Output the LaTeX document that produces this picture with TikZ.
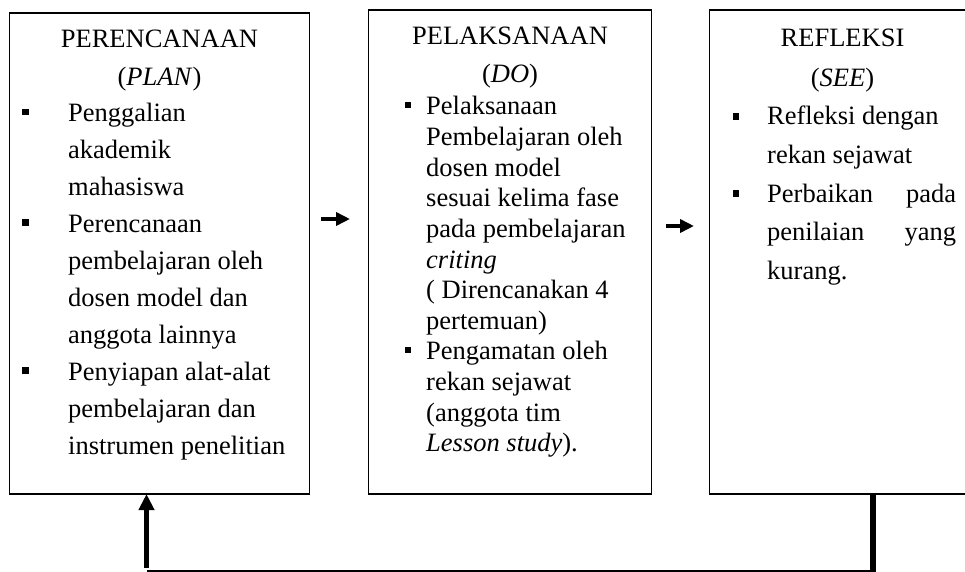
\documentclass[tikz,border=0pt]{standalone}
\usepackage{fontspec}
\setmainfont{Liberation Serif}
\usetikzlibrary{arrows.meta}
\begin{document}
\begin{tikzpicture}[x=1pt,y=-1pt,
  boxst/.style={draw, line width=1.8pt, inner sep=0pt, outer sep=0pt, anchor=north west},
  txt/.style={anchor=base west, inner sep=0pt, font=\fontsize{26.5pt}{30pt}\selectfont},
  ttl/.style={anchor=base, inner sep=0pt, font=\fontsize{26.5pt}{30pt}\selectfont},
  bul/.style={fill, draw=none, inner sep=0pt, minimum size=6.6pt},
  arr/.style={line width=4.5pt, -{Triangle[length=14pt,width=13pt]}},
  uparr/.style={line width=4.5pt, -{Triangle[length=16pt,width=15pt]}}]
\useasboundingbox (0,0) rectangle (965,572);

% boxes
\node[boxst, minimum width=300pt, minimum height=481pt] (plan) at (9.5,13) {};
\node[boxst, minimum width=283pt, minimum height=484pt] (do) at (368.5,10) {};
\node[boxst, minimum width=268pt, minimum height=484pt] (see) at (709.5,10) {};

% box 1
\node[ttl] (t1a) at (159.5,48) {PERENCANAAN};
\node[ttl] (t1b) at (159.5,86) {(\textit{PLAN})};
\node[bul] (b1a) at (25.5,112) {};
\node[bul] (b1b) at (25.5,222.7) {};
\node[bul] (b1c) at (25.5,370.3) {};
\node[txt] (l1a) at (68,122) {Penggalian};
\node[txt] (l1b) at (68,158.9) {akademik};
\node[txt] (l1c) at (68,195.8) {mahasiswa};
\node[txt] (l1d) at (68,232.7) {Perencanaan};
\node[txt] (l1e) at (68,269.6) {pembelajaran oleh};
\node[txt] (l1f) at (68,306.5) {dosen model dan};
\node[txt] (l1g) at (68,343.4) {anggota lainnya};
\node[txt] (l1h) at (68,380.3) {Penyiapan alat-alat};
\node[txt] (l1i) at (68,417.2) {pembelajaran dan};
\node[txt] (l1j) at (68,454.1) {instrumen penelitian};

% box 2
\node[ttl] (t2a) at (510,45) {PELAKSANAAN};
\node[ttl] (t2b) at (510,82.5) {(\textit{DO})};
\node[bul, minimum size=6pt] (b2a) at (408,105) {};
\node[bul, minimum size=6pt] (b2b) at (408,349.8) {};
\node[txt] (l2a) at (426,115) {Pelaksanaan};
\node[txt] (l2b) at (426,145.6) {Pembelajaran oleh};
\node[txt] (l2c) at (426,176.2) {dosen model};
\node[txt] (l2d) at (426,206.8) {sesuai kelima fase};
\node[txt] (l2e) at (426,237.4) {pada pembelajaran};
\node[txt] (l2f) at (426,268) {\textit{criting}};
\node[txt] (l2g) at (426,298.6) {( Direncanakan 4};
\node[txt] (l2h) at (426,329.2) {pertemuan)};
\node[txt] (l2i) at (426,359.8) {Pengamatan oleh};
\node[txt] (l2j) at (426,390.4) {rekan sejawat};
\node[txt] (l2k) at (426,421) {(anggota tim};
\node[txt] (l2l) at (426,451.6) {\textit{Lesson study}).};

% box 3
\node[ttl] (t3a) at (842.5,47) {REFLEKSI};
\node[ttl] (t3b) at (842.5,87) {(\textit{SEE})};
\node[bul] (b3a) at (736,116.5) {};
\node[bul] (b3b) at (736,193.5) {};
\node[txt] (l3a) at (767,125) {Refleksi dengan};
\node[txt] (l3b) at (767,163.5) {rekan sejawat};
\node[txt] (l3c) at (767,202) {\hbox to 189pt{Perbaikan\hfill pada}};
\node[txt] (l3d) at (767,240.5) {\hbox to 189pt{penilaian\hfill yang}};
\node[txt] (l3e) at (767,279) {kurang.};

% arrows between boxes
\coordinate (a1s) at (321,219);
\coordinate (a1e) at (350,219);
\coordinate (a2s) at (666,226);
\coordinate (a2e) at (694,226);
\draw[arr] (a1s) -- (a1e);
\draw[arr] (a2s) -- (a2e);

% feedback loop
\coordinate (fbR) at (873,571);
\coordinate (fbRb) at (873,572);
\coordinate (fbL) at (147,571);
\coordinate (upS) at (146.5,568);
\draw[line width=6pt] (see.south -| fbR) -- (fbRb);
\draw[line width=2.6pt] (fbL) -- (fbR);
\draw[uparr] (upS) -- (plan.south -| upS);
\end{tikzpicture}
\end{document}
